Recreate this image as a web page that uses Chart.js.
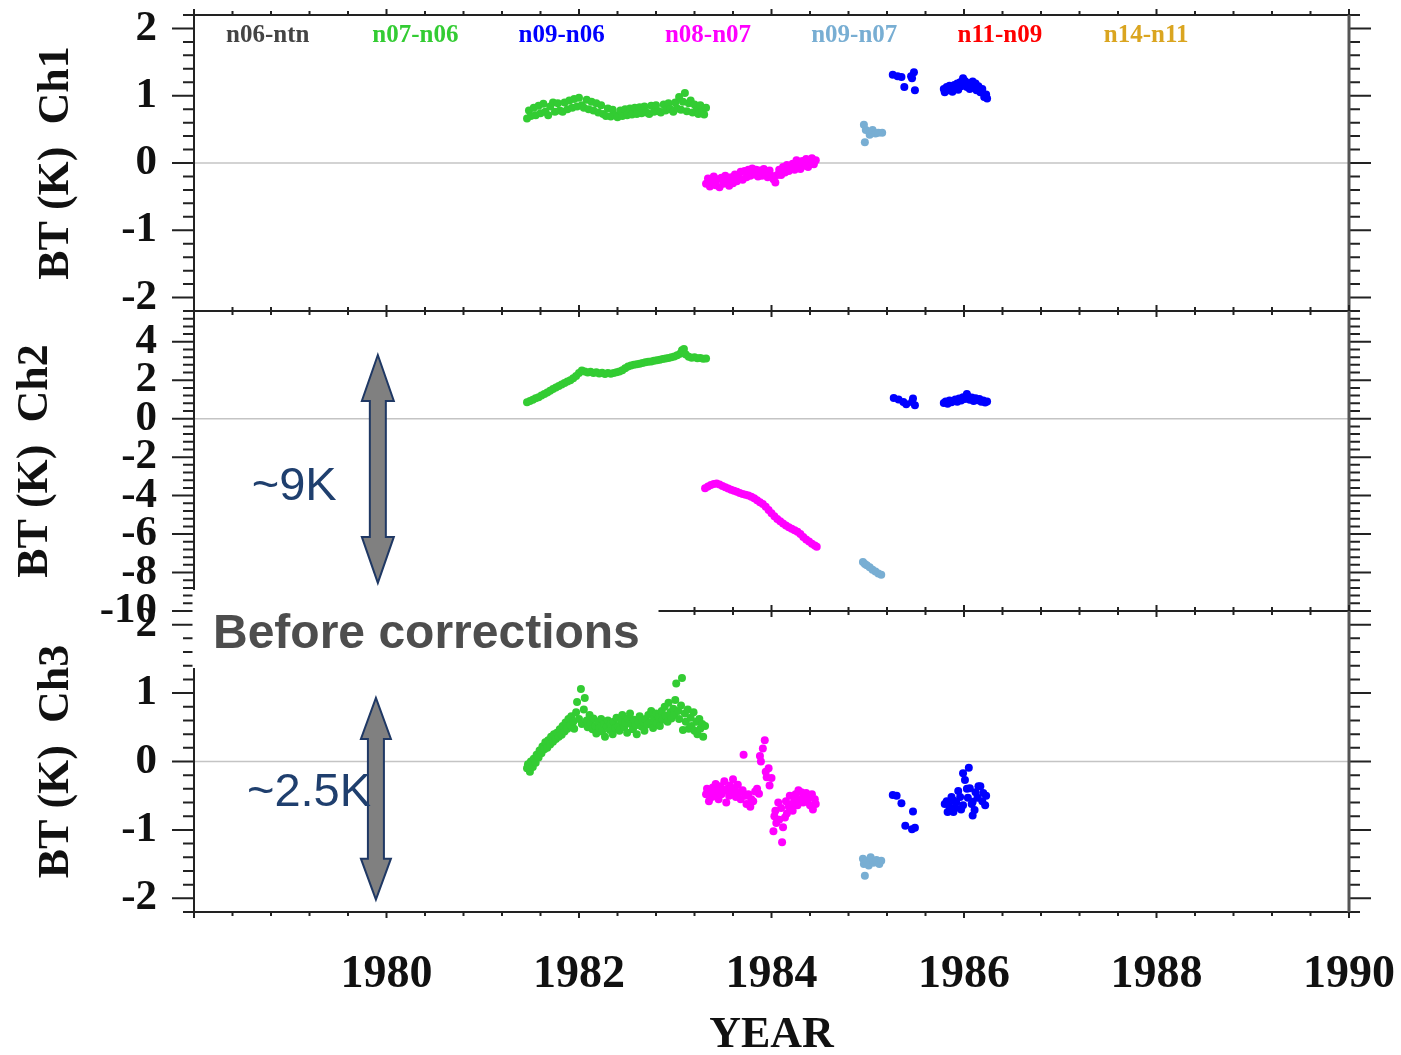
<!DOCTYPE html>
<html>
<head>
<meta charset="utf-8">
<title>BT differences before corrections</title>
<script src="https://cdn.jsdelivr.net/npm/chart.js@4.4.1/dist/chart.umd.min.js"></script>
<style>
  html, body { margin: 0; padding: 0; background: #fff; overflow: hidden; }
  #wrap { position: relative; width: 1401px; height: 1055px; }
  canvas { position: absolute; left: 0; }
</style>
</head>
<body>
<div id="wrap">
  <canvas id="ch1" width="1401" height="340" style="top:0"></canvas>
  <canvas id="ch2" width="1401" height="350" style="top:290px"></canvas>
  <canvas id="ch3" width="1401" height="475" style="top:580px"></canvas>
</div>
<script>
// satellite pairs (legend order) and their colours
const pairs = ['n06-ntn', 'n07-n06', 'n09-n06', 'n08-n07', 'n09-n07', 'n11-n09', 'n14-n11'];
const pairColors = ['#444444', '#33cc33', '#0000ff', '#ff00ff', '#78aed3', '#ff0000', '#daa520'];

const yearTicks = [1980, 1982, 1984, 1986, 1988, 1990];
const ch1Ticks = [-2, -1, 0, 1, 2];
const ch2Ticks = [-10, -8, -6, -4, -2, 0, 2, 4];
const ch3Ticks = [-2, -1, 0, 1, 2];

// --- Ch1: [decimal year, BT difference (K)] ---
const ch1_n07n06 = [
  [1981.46,0.66],[1981.48,0.78],[1981.50,0.70],[1981.53,0.82],[1981.55,0.71],[1981.58,0.85],[1981.60,0.74],
  [1981.63,0.88],[1981.65,0.76],[1981.68,0.71],[1981.70,0.84],[1981.73,0.90],[1981.75,0.76],[1981.78,0.89],
  [1981.80,0.78],[1981.83,0.76],[1981.85,0.90],[1981.88,0.80],[1981.90,0.93],[1981.93,0.82],[1981.95,0.95],
  [1981.98,0.84],[1982.00,0.97],[1982.03,0.86],[1982.05,0.82],[1982.08,0.94],[1982.10,0.80],[1982.13,0.91],
  [1982.15,0.78],[1982.18,0.89],[1982.20,0.75],[1982.23,0.86],[1982.25,0.73],[1982.28,0.70],[1982.30,0.81],
  [1982.33,0.69],[1982.35,0.79],[1982.38,0.71],[1982.40,0.68],[1982.43,0.78],[1982.45,0.70],[1982.48,0.80],
  [1982.50,0.71],[1982.53,0.81],[1982.55,0.72],[1982.58,0.82],[1982.60,0.73],[1982.63,0.83],[1982.65,0.74],
  [1982.68,0.84],[1982.70,0.75],[1982.73,0.73],[1982.75,0.85],[1982.78,0.76],[1982.80,0.86],[1982.83,0.77],
  [1982.85,0.75],[1982.88,0.87],[1982.90,0.78],[1982.93,0.89],[1982.95,0.80],[1982.98,0.76],[1983.00,0.90],
  [1983.02,0.81],[1983.04,0.98],[1983.06,0.79],[1983.08,0.91],[1983.10,1.04],[1983.12,0.77],[1983.14,0.89],
  [1983.16,0.93],[1983.18,0.75],[1983.20,0.87],[1983.22,0.78],[1983.24,0.73],[1983.26,0.86],[1983.28,0.76],
  [1983.30,0.72],[1983.32,0.82]
];
const ch1_n08n07 = [
  [1983.32,-0.31],[1983.34,-0.23],[1983.36,-0.35],[1983.38,-0.26],[1983.40,-0.20],[1983.42,-0.33],[1983.44,-0.24],
  [1983.46,-0.36],[1983.48,-0.22],[1983.50,-0.31],[1983.52,-0.19],[1983.54,-0.29],[1983.56,-0.34],[1983.58,-0.21],
  [1983.60,-0.30],[1983.62,-0.17],[1983.64,-0.27],[1983.66,-0.19],[1983.68,-0.13],[1983.70,-0.25],[1983.72,-0.12],
  [1983.74,-0.21],[1983.76,-0.10],[1983.78,-0.19],[1983.80,-0.08],[1983.82,-0.17],[1983.84,-0.10],[1983.86,-0.20],
  [1983.88,-0.11],[1983.90,-0.19],[1983.92,-0.09],[1983.94,-0.17],[1983.96,-0.21],[1983.98,-0.11],[1984.00,-0.19],
  [1984.02,-0.24],[1984.04,-0.29],[1984.06,-0.18],[1984.08,-0.10],[1984.10,-0.18],[1984.12,-0.06],[1984.14,-0.14],
  [1984.16,-0.03],[1984.18,-0.12],[1984.20,-0.04],[1984.22,-0.01],[1984.24,-0.10],[1984.26,0.04],[1984.28,-0.05],
  [1984.30,-0.09],[1984.32,0.03],[1984.34,-0.04],[1984.36,0.06],[1984.38,-0.06],[1984.40,0.02],[1984.42,0.07],
  [1984.44,-0.02],[1984.46,0.04]
];
const ch1_n09n07 = [
  [1984.96,0.57],[1984.98,0.49],[1984.97,0.31],[1985.02,0.42],[1985.05,0.49],[1985.08,0.44],[1985.11,0.45],[1985.15,0.45]
];
const ch1_n09n06 = [
  [1985.26,1.31],[1985.31,1.29],[1985.35,1.28],[1985.38,1.13],[1985.45,1.29],[1985.46,1.26],[1985.48,1.35],[1985.49,1.08],
  [1985.79,1.10],[1985.80,1.05],[1985.82,1.13],[1985.84,1.08],[1985.85,1.15],[1985.87,1.11],[1985.88,1.06],
  [1985.90,1.16],[1985.91,1.12],[1985.93,1.18],[1985.94,1.09],[1985.96,1.20],[1985.97,1.14],[1985.99,1.26],
  [1986.00,1.17],[1986.01,1.22],[1986.03,1.13],[1986.04,1.19],[1986.06,1.10],[1986.07,1.16],[1986.09,1.21],
  [1986.10,1.12],[1986.12,1.18],[1986.13,1.08],[1986.15,1.14],[1986.17,1.05],[1986.19,1.10],[1986.21,0.98],
  [1986.23,1.02],[1986.24,0.96]
];

// --- Ch2 ---
const ch2_n07n06 = [
  [1981.46,0.85],[1981.49,0.92],[1981.52,0.98],[1981.55,1.06],[1981.58,1.12],[1981.61,1.20],[1981.64,1.28],
  [1981.67,1.36],[1981.70,1.45],[1981.73,1.55],[1981.76,1.62],[1981.79,1.70],[1981.82,1.78],[1981.85,1.85],
  [1981.88,1.93],[1981.91,2.00],[1981.94,2.10],[1981.97,2.22],[1982.00,2.38],[1982.03,2.50],[1982.06,2.46],
  [1982.09,2.40],[1982.12,2.44],[1982.15,2.37],[1982.18,2.41],[1982.21,2.35],[1982.24,2.39],[1982.27,2.33],
  [1982.30,2.37],[1982.33,2.34],[1982.36,2.38],[1982.39,2.42],[1982.42,2.46],[1982.45,2.52],[1982.48,2.62],
  [1982.51,2.72],[1982.54,2.76],[1982.57,2.80],[1982.60,2.83],[1982.63,2.86],[1982.66,2.90],[1982.69,2.93],
  [1982.72,2.96],[1982.75,2.98],[1982.78,3.01],[1982.81,3.04],[1982.84,3.07],[1982.87,3.10],[1982.90,3.13],
  [1982.93,3.16],[1982.96,3.20],[1982.99,3.24],[1983.02,3.30],[1983.05,3.38],[1983.07,3.56],[1983.09,3.62],
  [1983.11,3.34],[1983.14,3.22],[1983.17,3.17],[1983.20,3.20],[1983.23,3.14],[1983.26,3.16],[1983.29,3.12],
  [1983.32,3.13]
];
const ch2_n08n07 = [
  [1983.31,-3.62],[1983.34,-3.52],[1983.37,-3.45],[1983.40,-3.40],[1983.43,-3.37],[1983.46,-3.42],[1983.49,-3.50],
  [1983.52,-3.56],[1983.55,-3.63],[1983.58,-3.70],[1983.61,-3.75],[1983.64,-3.80],[1983.67,-3.86],[1983.70,-3.92],
  [1983.73,-3.96],[1983.76,-4.00],[1983.79,-4.06],[1983.82,-4.14],[1983.85,-4.24],[1983.88,-4.34],[1983.91,-4.44],
  [1983.94,-4.58],[1983.97,-4.75],[1984.00,-4.92],[1984.03,-5.07],[1984.06,-5.22],[1984.09,-5.33],[1984.12,-5.45],
  [1984.15,-5.55],[1984.18,-5.64],[1984.21,-5.72],[1984.24,-5.80],[1984.27,-5.88],[1984.30,-6.00],[1984.33,-6.15],
  [1984.36,-6.28],[1984.39,-6.38],[1984.42,-6.50],[1984.45,-6.60],[1984.47,-6.66]
];
const ch2_n09n07 = [
  [1984.95,-7.45],[1984.97,-7.55],[1984.99,-7.62],[1985.02,-7.72],[1985.05,-7.85],[1985.08,-7.95],[1985.11,-8.05],[1985.14,-8.12]
];
const ch2_n09n06 = [
  [1985.27,1.08],[1985.32,1.00],[1985.37,0.87],[1985.40,0.75],[1985.46,0.87],[1985.47,1.05],[1985.49,0.70],
  [1985.79,0.82],[1985.81,0.90],[1985.83,0.78],[1985.85,0.95],[1985.87,0.86],[1985.89,0.92],[1985.91,1.00],
  [1985.93,0.88],[1985.95,1.05],[1985.97,0.94],[1985.99,1.12],[1986.01,1.02],[1986.03,1.28],[1986.04,1.15],
  [1986.06,0.98],[1986.08,1.10],[1986.10,0.92],[1986.12,1.06],[1986.14,0.96],[1986.16,1.02],[1986.18,0.88],
  [1986.20,0.95],[1986.22,0.84],[1986.24,0.90]
];

// --- Ch3 ---
const ch3_n07n06 = [
  [1981.46,-0.10],[1981.47,-0.04],[1981.49,-0.15],[1981.50,0.00],[1981.52,-0.08],[1981.53,0.04],[1981.55,-0.02],
  [1981.56,0.10],[1981.58,0.06],[1981.59,0.16],[1981.61,0.12],[1981.62,0.22],[1981.64,0.18],[1981.65,0.28],
  [1981.67,0.20],[1981.68,0.31],[1981.70,0.25],[1981.71,0.36],[1981.73,0.29],[1981.74,0.40],[1981.76,0.33],
  [1981.77,0.42],[1981.79,0.36],[1981.80,0.47],[1981.82,0.39],[1981.83,0.52],[1981.85,0.44],[1981.86,0.57],
  [1981.88,0.48],[1981.89,0.62],[1981.91,0.53],[1981.92,0.66],[1981.94,0.58],[1981.95,0.48],[1981.97,0.72],
  [1981.98,0.87],[1982.00,0.62],[1982.02,1.06],[1982.03,0.55],[1982.05,0.76],[1982.06,0.93],[1982.08,0.60],
  [1982.09,0.50],[1982.11,0.68],[1982.12,0.56],[1982.14,0.47],[1982.15,0.63],[1982.17,0.52],[1982.18,0.41],
  [1982.20,0.58],[1982.21,0.49],[1982.23,0.62],[1982.24,0.44],[1982.26,0.55],[1982.27,0.36],[1982.29,0.51],
  [1982.30,0.60],[1982.32,0.46],[1982.33,0.55],[1982.35,0.40],[1982.36,0.58],[1982.38,0.49],[1982.39,0.64],
  [1982.41,0.52],[1982.42,0.45],[1982.44,0.59],[1982.45,0.68],[1982.47,0.50],[1982.48,0.57],[1982.50,0.42],
  [1982.51,0.63],[1982.53,0.70],[1982.54,0.55],[1982.56,0.47],[1982.57,0.61],[1982.59,0.53],[1982.60,0.40],
  [1982.62,0.58],[1982.63,0.66],[1982.65,0.51],[1982.66,0.59],[1982.68,0.45],[1982.69,0.62],[1982.71,0.54],
  [1982.72,0.68],[1982.74,0.57],[1982.75,0.74],[1982.77,0.49],[1982.78,0.63],[1982.80,0.70],[1982.81,0.56],
  [1982.83,0.65],[1982.84,0.52],[1982.86,0.74],[1982.87,0.61],[1982.89,0.80],[1982.90,0.67],[1982.92,0.58],
  [1982.93,0.86],[1982.95,0.72],[1982.96,0.63],[1982.98,0.77],[1982.99,0.68],[1983.00,0.90],[1983.01,1.14],
  [1983.03,0.74],[1983.04,0.62],[1983.06,0.82],[1983.07,1.22],[1983.08,0.46],[1983.10,0.70],[1983.11,0.58],
  [1983.13,0.76],[1983.14,0.48],[1983.16,0.64],[1983.17,0.52],[1983.19,0.72],[1983.20,0.45],[1983.22,0.58],
  [1983.23,0.40],[1983.25,0.62],[1983.26,0.48],[1983.28,0.55],[1983.29,0.36],[1983.31,0.52]
];
const ch3_n08n07 = [
  [1983.32,-0.48],[1983.33,-0.40],[1983.35,-0.58],[1983.36,-0.45],[1983.38,-0.52],[1983.39,-0.38],[1983.41,-0.47],
  [1983.42,-0.33],[1983.44,-0.42],[1983.45,-0.55],[1983.47,-0.36],[1983.48,-0.48],[1983.50,-0.43],[1983.51,-0.29],
  [1983.53,-0.60],[1983.54,-0.40],[1983.56,-0.50],[1983.57,-0.35],[1983.59,-0.45],[1983.60,-0.26],[1983.62,-0.40],
  [1983.63,-0.52],[1983.65,-0.34],[1983.66,-0.46],[1983.68,-0.55],[1983.70,-0.42],[1983.71,0.10],[1983.73,-0.50],
  [1983.74,-0.62],[1983.76,-0.48],[1983.78,-0.66],[1983.79,-0.55],[1983.81,-0.58],[1983.83,-0.44],[1983.85,-0.40],
  [1983.87,-0.47],[1983.88,0.08],[1983.89,0.00],[1983.91,0.19],[1983.93,0.31],[1983.94,-0.15],[1983.95,-0.23],
  [1983.97,-0.10],[1983.98,-0.35],[1984.00,-0.24],[1984.02,-1.02],[1984.03,-0.80],[1984.04,-0.72],[1984.05,-0.90],
  [1984.07,-0.60],[1984.08,-0.85],[1984.10,-0.68],[1984.11,-1.18],[1984.12,-0.96],[1984.14,-0.82],[1984.15,-0.58],
  [1984.16,-0.76],[1984.18,-0.66],[1984.19,-0.50],[1984.21,-0.62],[1984.22,-0.72],[1984.24,-0.55],[1984.25,-0.48],
  [1984.27,-0.64],[1984.28,-0.42],[1984.30,-0.56],[1984.31,-0.45],[1984.33,-0.60],[1984.34,-0.50],[1984.36,-0.46],
  [1984.37,-0.58],[1984.39,-0.52],[1984.40,-0.64],[1984.42,-0.48],[1984.43,-0.70],[1984.45,-0.55],[1984.46,-0.62]
];
const ch3_n09n07 = [
  [1984.95,-1.42],[1984.96,-1.50],[1984.97,-1.67],[1984.99,-1.45],[1985.01,-1.52],[1985.03,-1.40],[1985.06,-1.48],
  [1985.09,-1.44],[1985.12,-1.50],[1985.14,-1.45]
];
const ch3_n09n06 = [
  [1985.26,-0.49],[1985.30,-0.50],[1985.35,-0.61],[1985.39,-0.94],[1985.46,-0.99],[1985.47,-0.73],[1985.49,-0.97],
  [1985.80,-0.62],[1985.82,-0.58],[1985.83,-0.74],[1985.85,-0.66],[1985.87,-0.52],[1985.89,-0.57],[1985.89,-0.74],
  [1985.91,-0.68],[1985.92,-0.60],[1985.94,-0.43],[1985.96,-0.52],[1985.97,-0.70],[1985.99,-0.64],[1985.99,-0.17],
  [1986.01,-0.27],[1986.03,-0.40],[1986.04,-0.53],[1986.05,-0.09],[1986.06,-0.39],[1986.08,-0.62],[1986.09,-0.59],
  [1986.09,-0.79],[1986.11,-0.71],[1986.12,-0.45],[1986.14,-0.53],[1986.15,-0.36],[1986.17,-0.36],[1986.19,-0.58],
  [1986.20,-0.46],[1986.22,-0.64],[1986.23,-0.50]
];

Chart.defaults.font.family = '"Liberation Serif", "Times New Roman", serif';
Chart.defaults.color = '#111';

const INK = '#222';

// scales keep their fixed sizes and don't ask the layout for label overhang
function noOverhang(s) {
  s.paddingTop = 0; s.paddingBottom = 0; s.paddingLeft = 0; s.paddingRight = 0;
}

// frame, tick marks, zero line, in-plot legend and annotations
const panelFrame = {
  id: 'panelFrame',
  beforeDatasetsDraw(chart) {
    const { ctx, chartArea: a, scales: { y } } = chart;
    const y0 = y.getPixelForValue(0);
    ctx.save();
    ctx.strokeStyle = '#c4c4c4';
    ctx.lineWidth = 1.5;
    ctx.beginPath();
    ctx.moveTo(a.left, y0);
    ctx.lineTo(a.right, y0);
    ctx.stroke();
    ctx.restore();
  },
  afterDraw(chart, args, opts) {
    const { ctx, chartArea: a, scales: { x, y } } = chart;
    ctx.save();
    ctx.strokeStyle = INK;
    ctx.lineWidth = 2;

    // y ticks on both sides, pointing outwards
    const n = Math.round((y.max - y.min) / opts.minorStep);
    ctx.beginPath();
    for (let i = 0; i <= n; i++) {
      const v = y.min + i * opts.minorStep;
      const major = opts.majors.some(m => Math.abs(m - v) < 1e-6);
      const len = major ? 22 : 11;
      const py = y.getPixelForValue(v);
      ctx.moveTo(a.left - len, py); ctx.lineTo(a.left, py);
      ctx.moveTo(a.right, py); ctx.lineTo(a.right + len, py);
    }
    ctx.stroke();

    // x ticks on top and bottom edges, every 0.4 yr, longer on the labelled years
    ctx.beginPath();
    for (let i = 0; i <= 30; i++) {
      const yr = x.min + i * 0.4;
      const major = Math.abs((yr - x.min) / 2 - Math.round((yr - x.min) / 2)) < 1e-6;
      const px = x.getPixelForValue(yr);
      const len = major ? 6 : 4;
      ctx.moveTo(px, a.top - len); ctx.lineTo(px, a.top);
      ctx.moveTo(px, a.bottom); ctx.lineTo(px, a.bottom + len);
    }
    ctx.stroke();

    // box
    ctx.beginPath();
    ctx.moveTo(a.left, a.top); ctx.lineTo(a.right, a.top);
    ctx.moveTo(a.left, a.bottom); ctx.lineTo(a.right, a.bottom);
    ctx.moveTo(a.left, a.top); ctx.lineTo(a.left, a.bottom);
    ctx.stroke();
    ctx.strokeStyle = '#555';
    ctx.lineWidth = 3;
    ctx.beginPath();
    ctx.moveTo(a.right, a.top); ctx.lineTo(a.right, a.bottom);
    ctx.stroke();

    // legend: coloured pair names across the top of the first panel
    if (opts.legend) {
      ctx.font = 'bold 25px "Liberation Serif"';
      ctx.textAlign = 'left';
      ctx.textBaseline = 'middle';
      chart.data.datasets.forEach((ds, i) => {
        ctx.fillStyle = ds.backgroundColor;
        ctx.fillText(ds.label, a.left + 32 + i * 146.3, a.top + 21);
      });
    }

    // white label box with heading
    if (opts.box) {
      const b = opts.box;
      ctx.fillStyle = '#fff';
      ctx.fillRect(a.left + b.dx, a.top + b.dy, b.w, b.h);
      ctx.font = 'bold 48px "Liberation Sans"';
      ctx.fillStyle = '#4d4d4d';
      ctx.textAlign = 'left';
      ctx.textBaseline = 'alphabetic';
      ctx.fillText(b.text, a.left + b.tx, a.top + b.ty);
    }

    // double-headed arrows spanning the spread
    (opts.arrows || []).forEach(ar => {
      const cx = x.getPixelForValue(ar.x);
      const yt = y.getPixelForValue(ar.top);
      const yb = y.getPixelForValue(ar.bottom);
      const { hw, sw, hl } = ar;
      ctx.beginPath();
      ctx.moveTo(cx, yt);
      ctx.lineTo(cx + hw, yt + hl); ctx.lineTo(cx + sw, yt + hl);
      ctx.lineTo(cx + sw, yb - hl); ctx.lineTo(cx + hw, yb - hl);
      ctx.lineTo(cx, yb);
      ctx.lineTo(cx - hw, yb - hl); ctx.lineTo(cx - sw, yb - hl);
      ctx.lineTo(cx - sw, yt + hl); ctx.lineTo(cx - hw, yt + hl);
      ctx.closePath();
      ctx.fillStyle = '#808080';
      ctx.fill();
      ctx.strokeStyle = '#1f3864';
      ctx.lineWidth = 2;
      ctx.stroke();
    });

    (opts.notes || []).forEach(t => {
      ctx.font = '47px "Liberation Sans"';
      ctx.fillStyle = '#1f3f6e';
      ctx.textAlign = 'left';
      ctx.textBaseline = 'alphabetic';
      ctx.fillText(t.text, x.getPixelForValue(t.x), y.getPixelForValue(t.y));
    });

    ctx.restore();
  }
};

function panel(id, cfg) {
  return new Chart(document.getElementById(id), {
    type: 'scatter',
    data: {
      datasets: pairs.map((p, i) => ({
        label: p,
        data: cfg.series[p] || [],
        backgroundColor: pairColors[i],
        borderWidth: 0,
        pointRadius: 4,
        pointHoverRadius: 4
      }))
    },
    options: {
      responsive: false,
      animation: false,
      events: [],
      layout: { autoPadding: false, padding: cfg.padding },
      plugins: {
        legend: { display: false },
        tooltip: { enabled: false },
        panelFrame: cfg.deco
      },
      scales: {
        x: {
          type: 'linear', min: 1978, max: 1990,
          grid: { display: false, drawTicks: false },
          border: { display: false },
          afterBuildTicks: s => { s.ticks = yearTicks.map(v => ({ value: v })); },
          afterFit: s => { s.height = cfg.showX ? 143 : 0; noOverhang(s); },
          ticks: {
            display: cfg.showX, autoSkip: false, maxRotation: 0, padding: 36,
            font: { size: 46, weight: 'bold' },
            callback: v => String(v)
          },
          title: {
            display: cfg.showX, text: 'YEAR',
            font: { size: 44, weight: 'bold', lineHeight: 0.9 },
            padding: { top: 0, bottom: 0 }
          }
        },
        y: {
          min: cfg.yMin, max: cfg.yMax,
          grid: { display: false, drawTicks: false },
          border: { display: false },
          afterBuildTicks: s => { s.ticks = cfg.yTicks.map(v => ({ value: v })); },
          afterFit: s => { s.width = 194; noOverhang(s); },
          ticks: { autoSkip: false, padding: 37, font: { size: 43, weight: 'bold' }, callback: v => String(v) },
          title: {
            display: true, text: cfg.title,
            font: { size: 44, weight: 'bold' },
            padding: { top: cfg.titlePad, bottom: 0 }
          }
        }
      }
    },
    plugins: [panelFrame]
  });
}

panel('ch1', {
  series: { 'n07-n06': ch1_n07n06, 'n09-n06': ch1_n09n06, 'n08-n07': ch1_n08n07, 'n09-n07': ch1_n09n07 },
  yMin: -2.2, yMax: 2.2, yTicks: ch1Ticks, title: 'BT (K)  Ch1', titlePad: 30,
  padding: { top: 15, bottom: 29, left: 0, right: 52 }, showX: false,
  deco: { minorStep: 0.2, majors: ch1Ticks, legend: true }
});

panel('ch2', {
  series: { 'n07-n06': ch2_n07n06, 'n09-n06': ch2_n09n06, 'n08-n07': ch2_n08n07, 'n09-n07': ch2_n09n07 },
  yMin: -10, yMax: 5.6, yTicks: ch2Ticks, title: 'BT (K)  Ch2', titlePad: 9,
  padding: { top: 21, bottom: 29, left: 0, right: 52 }, showX: false,
  deco: {
    minorStep: 0.4, majors: ch2Ticks,
    arrows: [{ x: 1979.91, top: 3.31, bottom: -8.54, hw: 16, sw: 8, hl: 46 }],
    notes: [{ text: '~9K', x: 1978.6, y: -4.25 }]
  }
});

panel('ch3', {
  series: { 'n07-n06': ch3_n07n06, 'n09-n06': ch3_n09n06, 'n08-n07': ch3_n08n07, 'n09-n07': ch3_n09n07 },
  yMin: -2.2, yMax: 2.2, yTicks: ch3Ticks, title: 'BT (K)  Ch3', titlePad: 30,
  padding: { top: 31, bottom: 0, left: 0, right: 52 }, showX: true,
  deco: {
    minorStep: 0.2, majors: ch3Ticks,
    box: { dx: -1.5, dy: -21, w: 466, h: 78, text: 'Before corrections', tx: 19, ty: 37 },
    arrows: [{ x: 1979.89, top: 0.93, bottom: -2.02, hw: 15, sw: 8, hl: 41 }],
    notes: [{ text: '~2.5K', x: 1978.55, y: -0.65 }]
  }
});
</script>
</body>
</html>
